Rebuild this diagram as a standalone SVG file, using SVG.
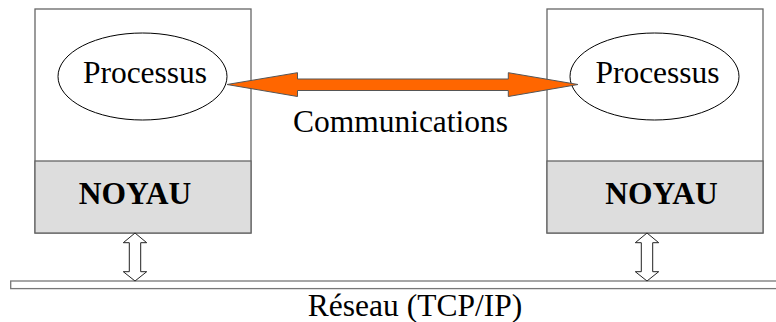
<svg xmlns="http://www.w3.org/2000/svg" width="776" height="322" viewBox="0 0 776 322">
  <style>
    .box { fill: #ffffff; stroke: #666666; stroke-width: 1.3; }
    .kernel { fill: #dddddd; stroke: #666666; stroke-width: 1.3; }
    .proc { fill: #ffffff; stroke: #000000; stroke-width: 1; }
    .label { font-family: "Liberation Serif", "Times New Roman", serif; font-size: 31.5px; fill: #000000; }
    .bold { font-weight: bold; }
    .comm { fill: #ff6600; stroke: #555555; stroke-width: 1; stroke-linejoin: miter; }
    .link { fill: #ffffff; stroke: #222222; stroke-width: 1; }
    .net { fill: #ffffff; stroke: #777777; stroke-width: 1.3; }
  </style>

  <!-- Network bus -->
  <g id="reseau">
    <rect class="net" x="10.7" y="281" width="780" height="7.6"/>
    <text class="label" x="415" y="316" text-anchor="middle">Réseau (TCP/IP)</text>
  </g>

  <!-- Left machine -->
  <g id="machine-gauche">
    <rect class="box" x="35" y="9" width="216" height="224"/>
    <rect class="kernel" x="35" y="161" width="216" height="72"/>
    <text class="label bold" x="135" y="204" text-anchor="middle">NOYAU</text>
  </g>
  <g id="processus-gauche">
    <ellipse class="proc" cx="142.5" cy="76.5" rx="84.5" ry="43.5"/>
    <text class="label" x="145" y="83.3" text-anchor="middle">Processus</text>
  </g>

  <!-- Right machine -->
  <g id="machine-droite">
    <rect class="box" x="547" y="9" width="216" height="224"/>
    <rect class="kernel" x="547" y="161" width="216" height="72"/>
    <text class="label bold" x="661.5" y="204" text-anchor="middle">NOYAU</text>
  </g>
  <g id="processus-droite">
    <ellipse class="proc" cx="654.5" cy="76.5" rx="84.5" ry="43.5"/>
    <text class="label" x="657.5" y="83.3" text-anchor="middle">Processus</text>
  </g>

  <!-- Connectors -->
  <g id="connecteurs">
    <!-- process-to-process communication -->
    <polygon class="comm" points="227,84.5 297.5,72.7 297.5,79 508.3,79 508.3,72.7 578,84.5 508.3,96.5 508.3,90.5 297.5,90.5 297.5,96.5"/>
    <text class="label" x="400.5" y="131.7" text-anchor="middle">Communications</text>
    <!-- kernel-to-network links -->
    <polygon class="link" points="135,233 146.7,242.7 140.7,242.7 140.7,271.7 146.7,271.7 135,281 123.3,271.7 129.3,271.7 129.3,242.7 123.3,242.7"/>
    <polygon class="link" points="647,233 658.7,242.7 652.7,242.7 652.7,271.7 658.7,271.7 647,281 635.3,271.7 641.3,271.7 641.3,242.7 635.3,242.7"/>
  </g>
</svg>
